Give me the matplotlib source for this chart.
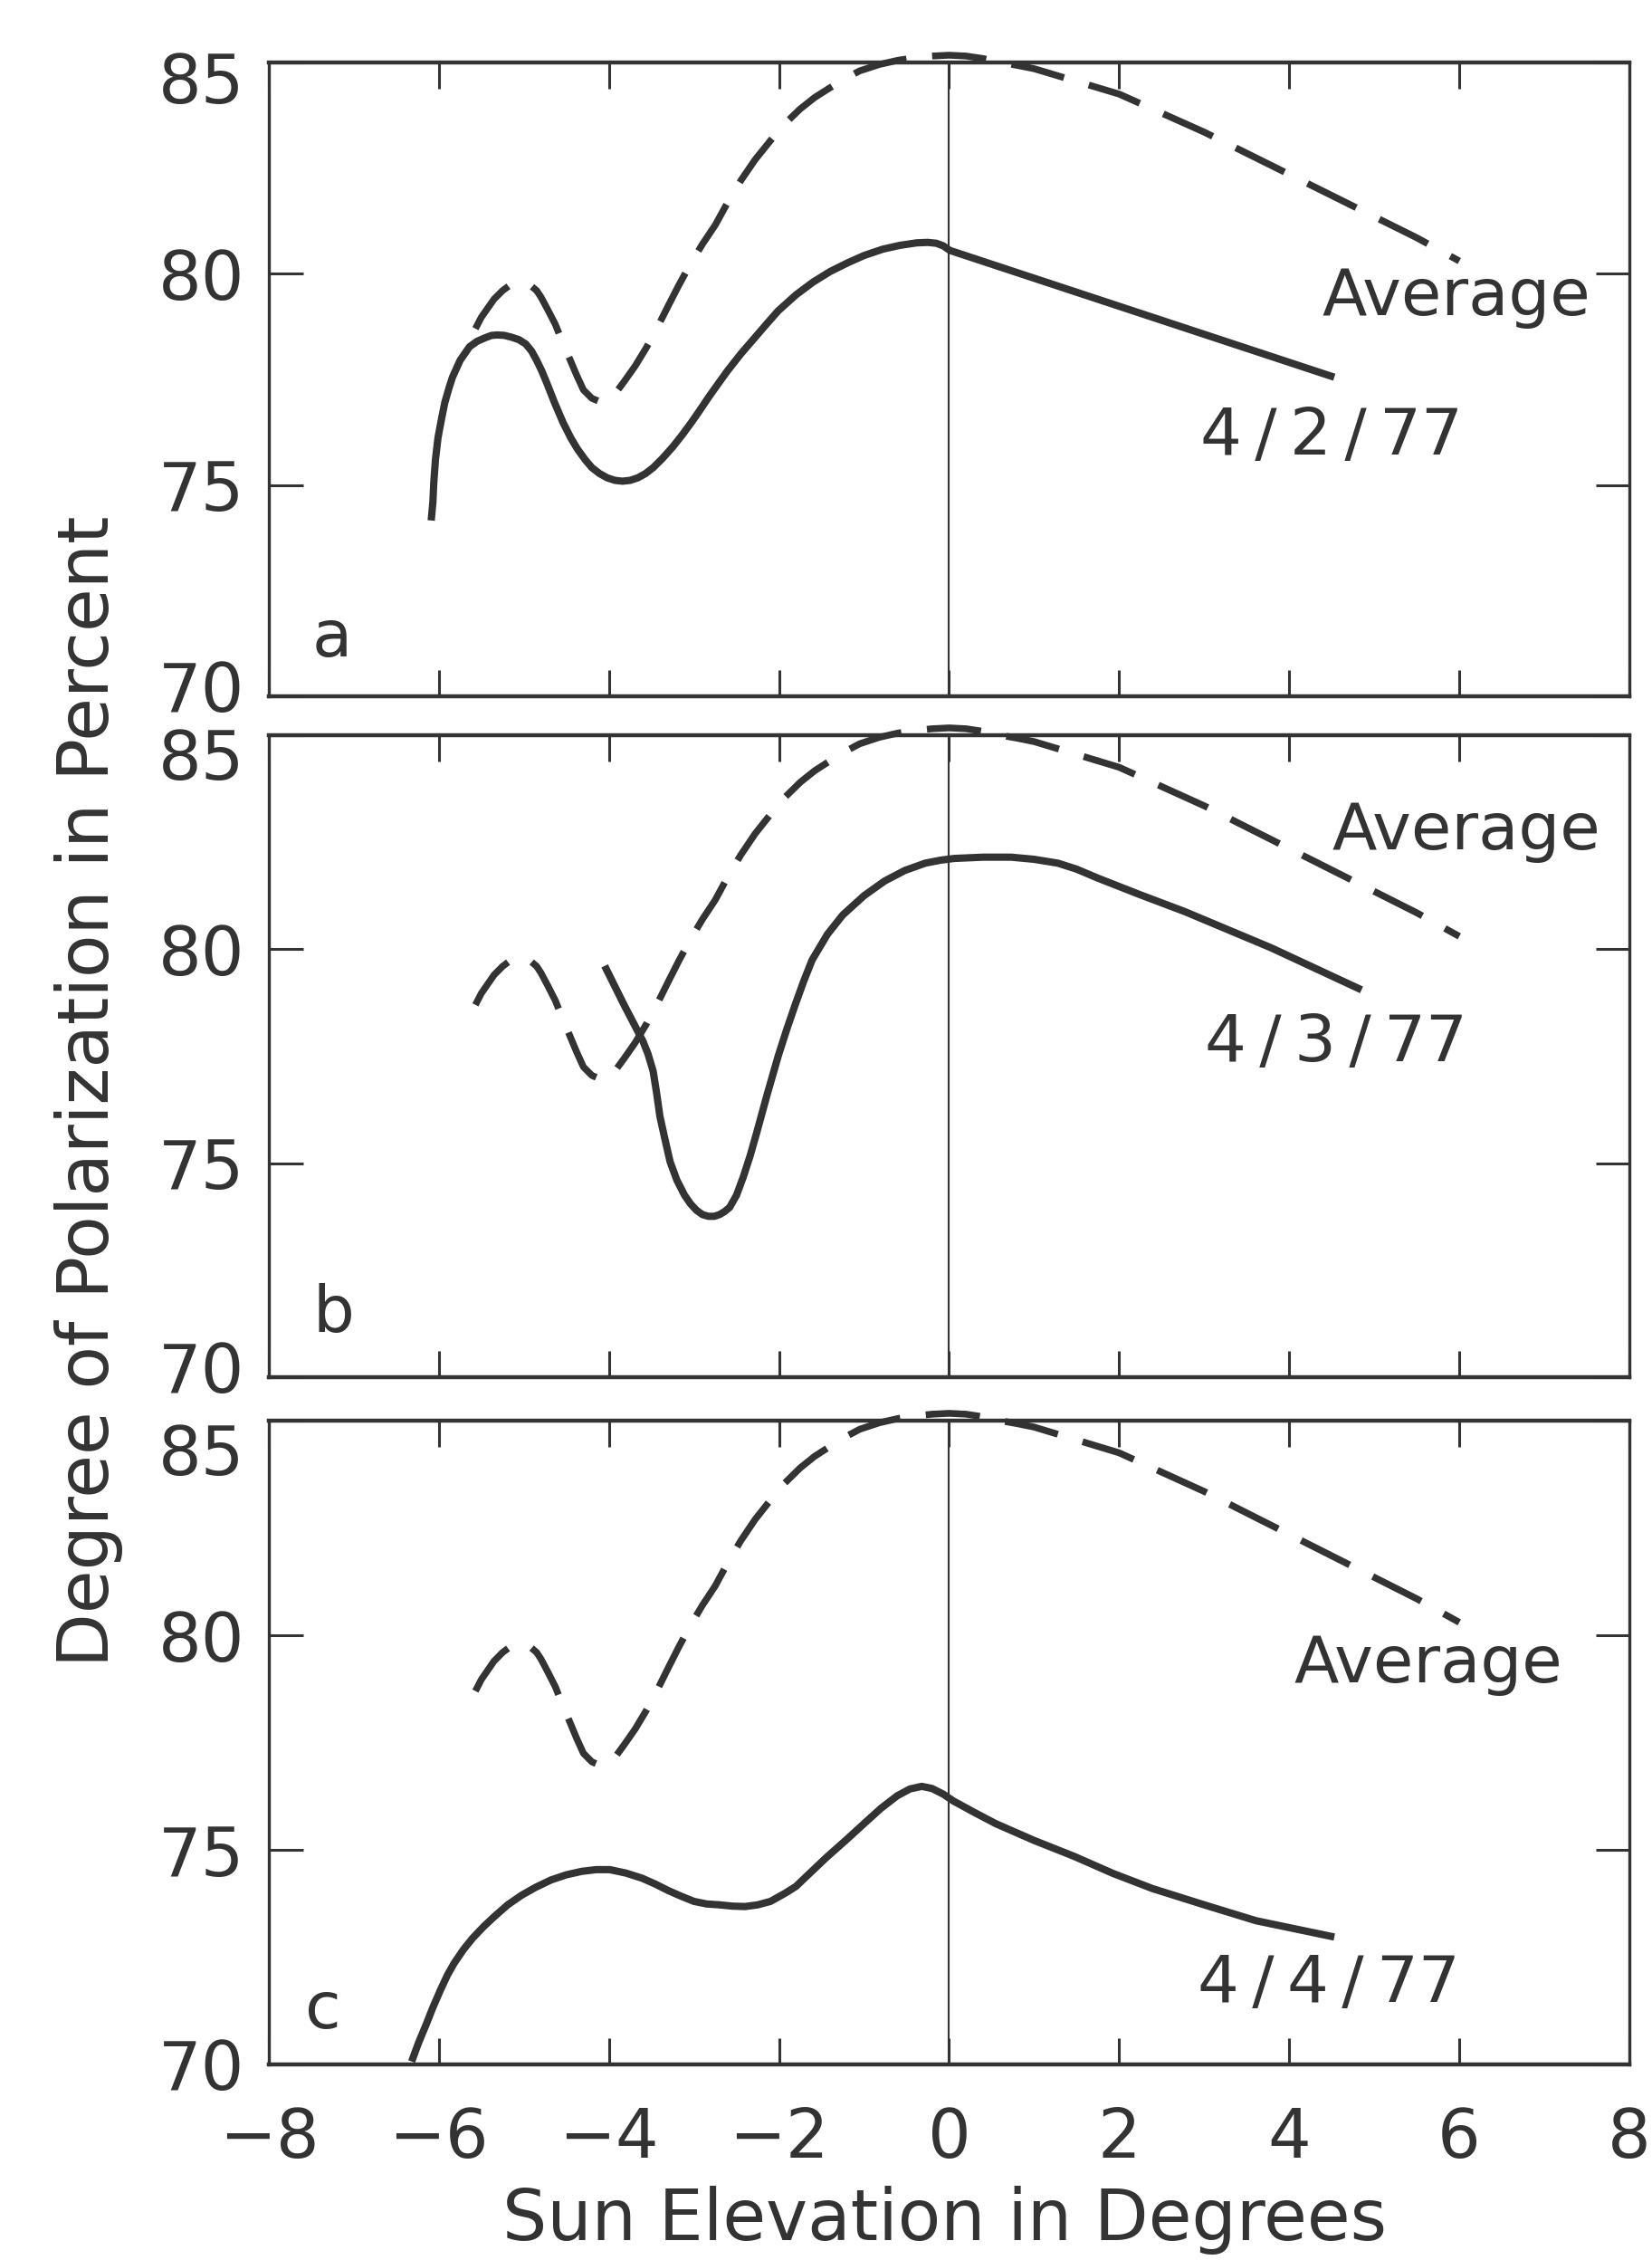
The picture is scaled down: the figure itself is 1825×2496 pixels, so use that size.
import matplotlib
matplotlib.use("Agg")
import matplotlib.pyplot as plt
from matplotlib.transforms import ScaledTranslation

plt.rcParams['font.family'] = ['DejaVu Sans']

INK = '#333333'

# Average degree of polarization (%) versus sun elevation (deg)
avg_elev = [-5.57, -5.5, -5.42, -5.35, -5.25, -5.15, -5.07, -5.0, -4.92, -4.85,
            -4.8, -4.72, -4.63, -4.55, -4.46, -4.38, -4.3, -4.2, -4.08, -3.95,
            -3.82, -3.69, -3.56, -3.43, -3.3, -3.18, -3.05, -2.9, -2.75, -2.6,
            -2.45, -2.28, -2.1, -1.93, -1.75, -1.58, -1.4, -1.22, -1.05, -0.82,
            -0.6, -0.4, -0.2, 0.0, 0.2, 0.4, 0.6, 0.8, 1.0, 1.25,
            1.5, 1.75, 2.0, 2.5, 3.0, 3.5, 4.0, 4.5, 5.0, 5.5, 6.0]
avg_pol = [78.7, 78.97, 79.2, 79.4, 79.6, 79.75, 79.8, 79.8, 79.72, 79.6,
           79.45, 79.15, 78.8, 78.4, 77.98, 77.6, 77.25, 77.05, 76.95, 77.1,
           77.45, 77.82, 78.25, 78.73, 79.25, 79.72, 80.2, 80.7, 81.15, 81.7,
           82.2, 82.7, 83.15, 83.55, 83.9, 84.17, 84.4, 84.62, 84.8, 84.95,
           85.05, 85.11, 85.15, 85.17, 85.15, 85.09, 85.0, 84.93, 84.85, 84.7,
           84.55, 84.4, 84.25, 83.8, 83.35, 82.85, 82.35, 81.85, 81.35, 80.85, 80.3]

# 4/2/77
elev_0402 = [-6.09, -6.07, -6.06, -6.04, -6.01, -5.97, -5.93, -5.88, -5.84, -5.75,
             -5.64, -5.55, -5.46, -5.38, -5.31, -5.23, -5.15, -5.06, -4.98, -4.91,
             -4.85, -4.79, -4.73, -4.64, -4.54, -4.45, -4.37, -4.28, -4.2, -4.11,
             -4.02, -3.93, -3.84, -3.75, -3.66, -3.57, -3.48, -3.37, -3.25, -3.14,
             -3.03, -2.92, -2.82, -2.71, -2.61, -2.45, -2.3, -2.15, -2.01, -1.8,
             -1.6, -1.4, -1.19, -1.0, -0.78, -0.58, -0.38, -0.25, -0.15, -0.07,
             0.01, 4.53]
pol_0402 = [74.16, 74.6, 75.05, 75.6, 76.12, 76.55, 76.95, 77.3, 77.55, 77.95,
            78.27, 78.4, 78.48, 78.54, 78.55, 78.54, 78.5, 78.44, 78.34, 78.17,
            77.95, 77.7, 77.41, 76.95, 76.48, 76.12, 75.85, 75.6, 75.41, 75.27,
            75.17, 75.11, 75.09, 75.11, 75.17, 75.27, 75.41, 75.63, 75.9, 76.18,
            76.48, 76.8, 77.1, 77.41, 77.69, 78.1, 78.45, 78.8, 79.12, 79.5,
            79.8, 80.05, 80.26, 80.43, 80.58, 80.67, 80.73, 80.74, 80.72, 80.66,
            80.55, 77.55]

# 4/3/77
elev_0403 = [-4.05, -3.83, -3.6, -3.54, -3.48, -3.44, -3.4, -3.34, -3.28, -3.2,
             -3.11, -3.04, -2.97, -2.9, -2.83, -2.76, -2.7, -2.64, -2.58, -2.5,
             -2.42, -2.34, -2.26, -2.14, -2.01, -1.91, -1.81, -1.71, -1.61, -1.43,
             -1.25, -1.0, -0.76, -0.52, -0.28, -0.1, 0.06, 0.4, 0.73, 1.0,
             1.28, 1.5, 1.75, 2.25, 2.77, 3.79, 4.85]
pol_0403 = [79.61, 78.73, 77.85, 77.55, 77.15, 76.65, 76.09, 75.55, 75.03, 74.6,
            74.25, 74.05, 73.9, 73.8, 73.76, 73.76, 73.8, 73.87, 73.97, 74.25,
            74.68, 75.17, 75.73, 76.6, 77.5, 78.12, 78.7, 79.25, 79.75, 80.35,
            80.8, 81.25, 81.59, 81.84, 82.01, 82.08, 82.12, 82.15, 82.15, 82.1,
            82.01, 81.87, 81.66, 81.27, 80.88, 80.03, 79.05]

# 4/4/77
elev_0404 = [-6.32, -6.24, -6.15, -6.07, -5.98, -5.9, -5.82, -5.71, -5.6, -5.47,
             -5.34, -5.19, -5.03, -4.86, -4.68, -4.5, -4.32, -4.15, -3.99, -3.8,
             -3.61, -3.45, -3.3, -3.15, -3.0, -2.85, -2.7, -2.55, -2.4, -2.25,
             -2.1, -1.92, -1.8, -1.7, -1.45, -1.2, -0.99, -0.8, -0.61, -0.46,
             -0.32, -0.2, -0.07, 0.05, 0.3, 0.55, 1.0, 1.47, 1.93, 2.39,
             3.0, 3.61, 4.53]
pol_0404 = [70.07, 70.5, 70.93, 71.33, 71.74, 72.08, 72.36, 72.68, 72.95, 73.22,
            73.46, 73.72, 73.94, 74.13, 74.3, 74.42, 74.5, 74.54, 74.54, 74.46,
            74.34, 74.2, 74.05, 73.92, 73.8, 73.74, 73.72, 73.69, 73.68, 73.72,
            73.8, 74.0, 74.15, 74.34, 74.81, 75.25, 75.63, 75.97, 76.26, 76.42,
            76.48, 76.43, 76.3, 76.14, 75.87, 75.61, 75.22, 74.85, 74.45, 74.1,
            73.72, 73.35, 72.97]

dates = ['4/2/77', '4/3/77', '4/4/77']
panel_letters = ['a', 'b', 'c']
x_ticks = [-8, -6, -4, -2, 0, 2, 4, 6, 8]
y_ticks = [70, 75, 80, 85]

days = [(elev_0402, pol_0402), (elev_0403, pol_0403), (elev_0404, pol_0404)]

fig = plt.figure(figsize=(18.25, 24.96), dpi=100)
fig.patch.set_facecolor('white')

rects = [[0.1627, 0.6919, 0.8236, 0.2805],
         [0.1627, 0.3906, 0.8236, 0.2841],
         [0.1627, 0.0865, 0.8236, 0.2849]]

# text anchors per panel (data coords): Average label, date label, panel letter
avg_txt = [(5.97, 79.02), (6.08, 82.33), (5.64, 78.90)]
date_txt = [(4.50, 75.72), (4.55, 77.39), (4.46, 71.46)]
letter_txt = [(-7.26, 70.95), (-7.24, 71.05), (-7.36, 70.84)]
# vertical nudges (points) for the end labels 85 / 70 so they clear the frame
end_shift = [(-12.0, 8.5), (-15.0, 8.5), (-23.0, 0.7)]

for i, rect in enumerate(rects):
    ax = fig.add_axes(rect)
    ax.set_xlim(-8, 8)
    ax.set_ylim(70, 85)

    ax.axvline(0, color=INK, lw=1.5, zorder=1)

    ax.plot(avg_elev, avg_pol, color=INK, lw=5.4, linestyle=(0, (8, 3.8)),
            dash_capstyle='butt', dash_joinstyle='round', clip_on=False, zorder=3)
    e, p = days[i]
    ax.plot(e, p, color=INK, lw=5.8, solid_joinstyle='round',
            solid_capstyle='butt', zorder=3)

    ax.text(avg_txt[i][0], avg_txt[i][1], 'Average', ha='center', va='baseline',
            fontsize=52, color=INK)
    ax.text(date_txt[i][0], date_txt[i][1],
            dates[i].replace('/', '\u2009/\u2009'), ha='center', va='baseline',
            fontsize=52, color=INK)
    ax.text(letter_txt[i][0], letter_txt[i][1], panel_letters[i], ha='center',
            va='baseline', fontsize=52, color=INK)

    ax.set_xticks(x_ticks)
    ax.set_yticks(y_ticks)
    ax.tick_params(axis='x', which='major', direction='in', length=21, width=2.2,
                   top=True, bottom=True, labelbottom=(i == 2), labelsize=54,
                   pad=33, colors=INK)
    ax.tick_params(axis='y', which='major', direction='in', length=27, width=2.2,
                   left=True, right=True, labelsize=54, pad=19, colors=INK)

    for side, sp in ax.spines.items():
        sp.set_color(INK)
        sp.set_linewidth(3.2 if side in ('top', 'bottom') else 2.4)

    ticks = ax.yaxis.get_major_ticks()
    dy85, dy70 = end_shift[i]
    for t, val in zip(ticks, y_ticks):
        if val == 85:
            t.label1.set_transform(t.label1.get_transform()
                                   + ScaledTranslation(0, dy85 / 72, fig.dpi_scale_trans))
        elif val == 70:
            t.label1.set_transform(t.label1.get_transform()
                                   + ScaledTranslation(0, dy70 / 72, fig.dpi_scale_trans))

fig.text(0.0535, 0.517, 'Degree of Polarization in Percent', rotation=90,
         ha='center', va='center', fontsize=56, color=INK)
fig.text(0.5716, 0.0176, 'Sun Elevation in Degrees', ha='center', va='center',
         fontsize=56, color=INK)

fig.savefig('out.png', dpi=100, facecolor='white')
